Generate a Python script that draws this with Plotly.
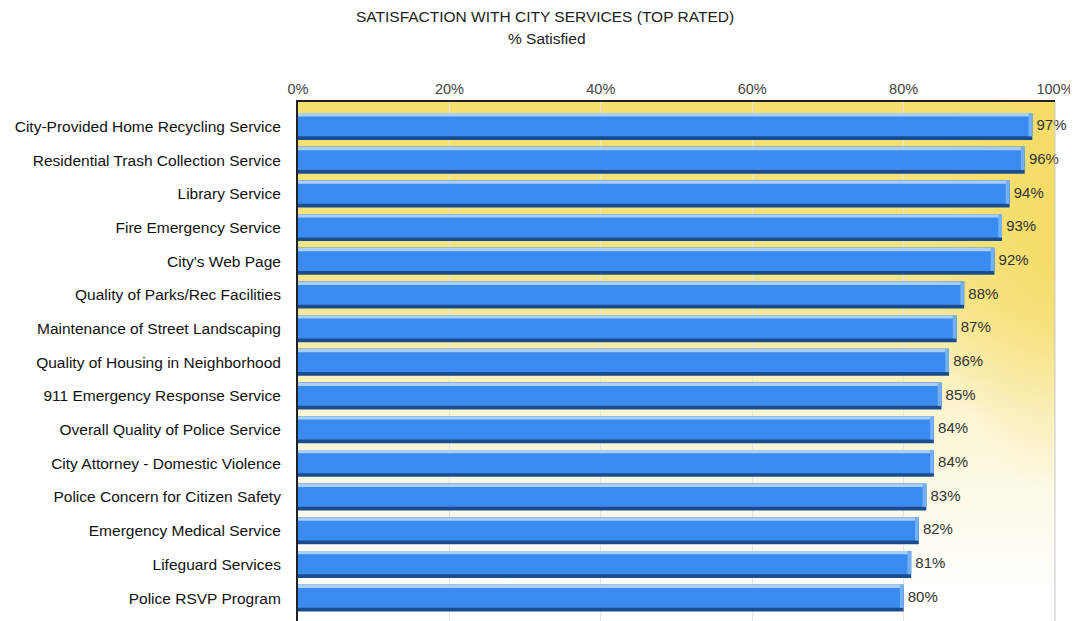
import base64
import plotly.graph_objects as go

services = [
    "City-Provided Home Recycling Service",
    "Residential Trash Collection Service",
    "Library Service",
    "Fire Emergency Service",
    "City's Web Page",
    "Quality of Parks/Rec Facilities",
    "Maintenance of Street Landscaping",
    "Quality of Housing in Neighborhood",
    "911 Emergency Response Service",
    "Overall Quality of Police Service",
    "City Attorney - Domestic Violence",
    "Police Concern for Citizen Safety",
    "Emergency Medical Service",
    "Lifeguard Services",
    "Police RSVP Program",
]
satisfied = [97, 96, 94, 93, 92, 88, 87, 86, 85, 84, 84, 83, 82, 81, 80]
tick_vals = [0, 20, 40, 60, 80, 100]
tick_text = ["0%", "20%", "40%", "60%", "80%", "100%"]

FONT = "Arial, Liberation Sans, sans-serif"

# yellow gradient backdrop of the plot area
svg = """<svg xmlns='http://www.w3.org/2000/svg' width='757' height='519' viewBox='0 0 100 100' preserveAspectRatio='none'>
<defs>
<linearGradient id='v' x1='0' y1='0' x2='0' y2='1'>
<stop offset='0' stop-color='#f6df6e'/>
<stop offset='0.38' stop-color='#f7e68a'/>
<stop offset='0.6' stop-color='#fbf5d2'/>
<stop offset='0.85' stop-color='#fefdf4'/>
<stop offset='1' stop-color='#ffffff'/>
</linearGradient>
<radialGradient id='r'>
<stop offset='0' stop-color='#f5d85c' stop-opacity='0.7'/>
<stop offset='1' stop-color='#f5d85c' stop-opacity='0'/>
</radialGradient>
</defs>
<rect width='100' height='100' fill='url(#v)'/>
<ellipse cx='100' cy='25' rx='16' ry='50' fill='url(#r)'/>
</svg>"""
bg_uri = "data:image/svg+xml;base64," + base64.b64encode(svg.encode()).decode()

fig = go.Figure()

# dark lower edge
fig.add_trace(go.Bar(
    x=satisfied, y=services, orientation="h",
    offset=-0.4, width=0.8,
    marker=dict(color="#1b4c8e", line=dict(width=0)),
    hoverinfo="skip", showlegend=False,
))
# main face
fig.add_trace(go.Bar(
    x=satisfied, y=services, orientation="h",
    offset=-0.4, width=0.69,
    marker=dict(color="#3a8bef", line=dict(width=0)),
    hoverinfo="skip", showlegend=False,
))
# top highlight
fig.add_trace(go.Bar(
    x=satisfied, y=services, orientation="h",
    offset=-0.4, width=0.1,
    marker=dict(color="#a9cff8", line=dict(width=0)),
    hoverinfo="skip", showlegend=False,
))
# lighter end cap
fig.add_trace(go.Bar(
    x=[0.5] * len(satisfied), base=[v - 0.5 for v in satisfied], y=services,
    orientation="h", offset=-0.4, width=0.69,
    marker=dict(color="#74b0f6", line=dict(width=0)),
    hoverinfo="skip", showlegend=False,
))
# value labels
fig.add_trace(go.Scatter(
    x=satisfied, y=services, mode="text",
    text=[f" {v}%" for v in satisfied],
    textposition="middle right",
    textfont=dict(family=FONT, size=15, color="#333333"),
    cliponaxis=False, hoverinfo="skip", showlegend=False,
))

# page body has an 8px margin, so the figure is sized/offset for it
fig.update_layout(
    width=1070, height=613,
    margin=dict(l=290, r=23, t=94, b=0),
    barmode="overlay",
    paper_bgcolor="white",
    plot_bgcolor="rgba(0,0,0,0)",
    font=dict(family=FONT, size=16, color="#111111"),
    images=[dict(
        source=bg_uri, xref="paper", yref="paper",
        x=0, y=1, sizex=1, sizey=1, xanchor="left", yanchor="top",
        sizing="stretch", layer="below",
    )],
    annotations=[
        dict(text="SATISFACTION WITH CITY SERVICES (TOP RATED)",
             xref="paper", yref="paper", x=(545 - 298) / 757, y=(621 - 16) / 519,
             showarrow=False, xanchor="center", yanchor="middle",
             font=dict(family=FONT, size=15.5, color="#222222")),
        dict(text="% Satisfied",
             xref="paper", yref="paper", x=(547 - 298) / 757, y=(621 - 38) / 519,
             showarrow=False, xanchor="center", yanchor="middle",
             font=dict(family=FONT, size=15.5, color="#222222")),
    ],
    shapes=[dict(type="line", xref="paper", yref="paper",
                 x0=1, x1=1, y0=0, y1=1,
                 line=dict(color="#c8c8c8", width=1))],
)

fig.update_xaxes(
    range=[0, 100], side="top",
    tickvals=tick_vals, ticktext=tick_text,
    tickfont=dict(family=FONT, size=14.5, color="#444444"),
    showgrid=True, gridcolor="#e4e4e4", gridwidth=1,
    showline=True, linecolor="#222222", linewidth=2,
    ticks="", zeroline=False, fixedrange=True,
)
fig.update_yaxes(
    range=[14.68, -0.73], type="category",
    tickfont=dict(family=FONT, size=15.5, color="#111111"),
    showgrid=False, showline=True, linecolor="#222222", linewidth=2,
    ticks="", ticklabelstandoff=12, fixedrange=True,
)

fig.write_html("out.html")
